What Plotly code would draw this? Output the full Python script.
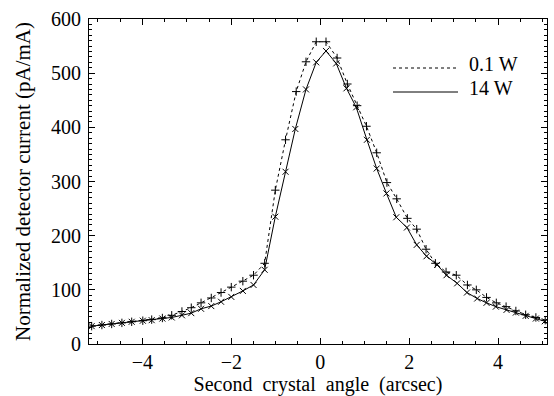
import plotly.graph_objects as go

# 14 W series (solid, x markers)
angle_14w = [-5.14, -4.91, -4.69, -4.46, -4.24, -3.99, -3.79, -3.55, -3.34, -3.11,
             -2.90, -2.68, -2.45, -2.23, -2.00, -1.74, -1.50, -1.25, -1.01, -0.78,
             -0.56, -0.32, -0.09, 0.13, 0.36, 0.59, 0.81, 1.05, 1.27, 1.49,
             1.71, 1.95, 2.17, 2.39, 2.63, 2.84, 3.08, 3.30, 3.53, 3.74,
             3.95, 4.19, 4.40, 4.62, 4.85, 5.05]
current_14w = [33, 35, 37, 39, 41, 43, 44, 47, 49, 53,
               57, 65, 70, 78, 87, 98, 109, 137, 235, 318,
               397, 470, 520, 541, 518, 472, 437, 377, 324, 278,
               234, 215, 183, 162, 146, 127, 112, 95, 84, 76,
               69, 63, 58, 52, 47, 42]

# 0.1 W series (dashed, + markers)
angle_01w = [-5.14, -4.91, -4.69, -4.46, -4.24, -3.99, -3.79, -3.55, -3.34, -3.11,
             -2.90, -2.68, -2.45, -2.23, -2.00, -1.74, -1.50, -1.25, -1.01, -0.78,
             -0.54, -0.32, -0.09, 0.13, 0.38, 0.61, 0.83, 1.04, 1.27, 1.50,
             1.72, 1.96, 2.17, 2.38, 2.59, 2.83, 3.06, 3.31, 3.51, 3.74,
             3.96, 4.18, 4.40, 4.62, 4.85, 5.06]
current_01w = [33, 35, 37, 39, 41, 43, 45, 48, 53, 60,
               67, 76, 85, 95, 105, 116, 127, 149, 284, 377,
               466, 521, 558, 558, 528, 480, 440, 402, 353, 298,
               268, 232, 212, 175, 149, 133, 127, 109, 100, 86,
               76, 69, 61, 54, 49, 44]

x_ticks = [-4, -2, 0, 2, 4]
y_ticks = [0, 100, 200, 300, 400, 500, 600]
legend_labels = ["0.1 W", "14 W"]

FONT = "Times New Roman, Liberation Serif, DejaVu Serif, serif"

fig = go.Figure()
fig.add_trace(go.Scatter(
    x=angle_01w, y=current_01w, mode="lines+markers", showlegend=False,
    line=dict(color="black", width=1, dash="3px,3px"),
    marker=dict(symbol="cross-thin-open", size=6, color="black",
                line=dict(width=1, color="black")),
))
fig.add_trace(go.Scatter(
    x=angle_14w, y=current_14w, mode="lines+markers", showlegend=False,
    line=dict(color="black", width=1),
    marker=dict(symbol="x-thin-open", size=6, color="black",
                line=dict(width=1, color="black")),
))

# Manual legend
fig.add_shape(type="line", xref="paper", yref="paper",
              x0=(393 - 89) / 458, x1=(458 - 89) / 458,
              y0=(344 - 68) / 325, y1=(344 - 68) / 325,
              line=dict(color="black", width=1, dash="3px,3px"))
fig.add_shape(type="line", xref="paper", yref="paper",
              x0=(393 - 89) / 458, x1=(458 - 89) / 458,
              y0=(344 - 92) / 325, y1=(344 - 92) / 325,
              line=dict(color="black", width=1))
for lbl, ypx in zip(legend_labels, [64, 88]):
    fig.add_annotation(text=lbl, xref="paper", yref="paper",
                       x=(467 - 89) / 458, y=(344 - ypx) / 325,
                       xanchor="left", yanchor="middle", showarrow=False,
                       font=dict(family=FONT, size=20, color="black"))

axis_common = dict(
    showgrid=False, zeroline=False, showline=True, linecolor="black",
    linewidth=1, mirror="ticks", ticks="inside", tickcolor="black",
    tickwidth=1, ticklen=6,
    tickfont=dict(family=FONT, size=20, color="black"),
)

fig.update_xaxes(
    range=[-5.2, 5.1], tickvals=x_ticks,
    ticktext=[("\u2212" + str(-t)) if t < 0 else str(t) for t in x_ticks],
    minor=dict(dtick=0.5, tick0=0, ticks="inside", ticklen=3, tickcolor="black"),
    title=dict(text="Second  crystal  angle  (arcsec)",
               font=dict(family=FONT, size=20, color="black"), standoff=4),
    automargin=False,
    **axis_common,
)
fig.update_yaxes(
    range=[0, 600], tickvals=y_ticks,
    minor=dict(dtick=10, tick0=0, ticks="inside", ticklen=3, tickcolor="black"),
    title=dict(text="Normalized detector current (pA/mA)",
               font=dict(family=FONT, size=21, color="black"), standoff=14),
    ticklabelstandoff=3,
    automargin=False,
    **axis_common,
)

fig.update_layout(
    width=554, height=396,
    margin=dict(l=89, r=7, t=19, b=52),
    paper_bgcolor="white", plot_bgcolor="white",
    showlegend=False,
)

fig.write_html("out.html", config={"displayModeBar": False},
               post_script="document.body.style.margin='0';")
